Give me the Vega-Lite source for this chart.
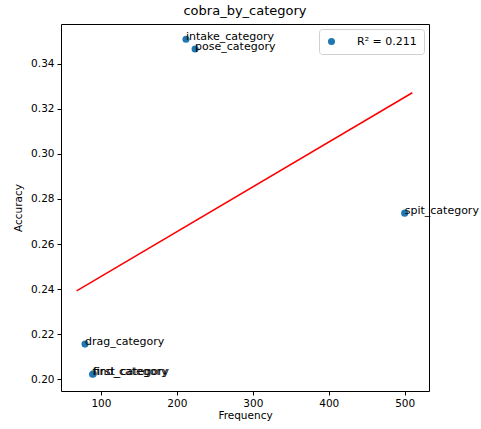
{
  "$schema": "https://vega.github.io/schema/vega-lite/v6.json",
  "width": 368,
  "height": 367,
  "autosize": {"type": "none"},
  "padding": {"left": 61, "top": 24, "right": 52, "bottom": 38},
  "background": "white",
  "title": {"text": "cobra_by_category", "fontSize": 13, "fontWeight": "normal", "font": "DejaVu Sans", "color": "#000", "offset": 6},
  "config": {
    "font": "DejaVu Sans",
    "view": {"stroke": "#000", "strokeWidth": 1},
    "axis": {"grid": false, "domain": false, "tickColor": "#000", "tickSize": 4, "labelFontSize": 10.5, "labelColor": "#000", "titleFontSize": 10.5, "titleFontWeight": "normal", "titleColor": "#000", "labelPadding": 3}
  },
  "datasets": {
    "pts": [
      {"label": "intake_category", "frequency": 212, "accuracy": 0.3508},
      {"label": "pose_category", "frequency": 224, "accuracy": 0.3465},
      {"label": "spit_category", "frequency": 500, "accuracy": 0.2737},
      {"label": "drag_category", "frequency": 79, "accuracy": 0.2156},
      {"label": "find_category", "frequency": 89, "accuracy": 0.2022},
      {"label": "first_category", "frequency": 90, "accuracy": 0.2024}
    ],
    "fit": [
      {"frequency": 68, "accuracy": 0.2392},
      {"frequency": 510, "accuracy": 0.3271}
    ]
  },
  "layer": [
    {
      "data": {"name": "fit"},
      "mark": {"type": "line", "color": "#ff0000", "strokeWidth": 1.5, "clip": true},
      "encoding": {
        "x": {"field": "frequency", "type": "quantitative"},
        "y": {"field": "accuracy", "type": "quantitative"}
      }
    },
    {
      "data": {"name": "pts"},
      "mark": {"type": "circle", "size": 50, "opacity": 1},
      "encoding": {
        "x": {"field": "frequency", "type": "quantitative", "title": "Frequency", "scale": {"domain": [47.4, 532], "nice": false, "zero": false}, "axis": {"values": [100, 200, 300, 400, 500], "titlePadding": 2}},
        "y": {"field": "accuracy", "type": "quantitative", "title": "Accuracy", "scale": {"domain": [0.1948, 0.3576], "nice": false, "zero": false}, "axis": {"values": [0.2, 0.22, 0.24, 0.26, 0.28, 0.3, 0.32, 0.34], "format": ".2f", "titlePadding": 7}},
        "color": {"datum": "R² = 0.211", "type": "nominal", "scale": {"range": ["#1f77b4"]}, "legend": {"title": null, "orient": "top-right", "offset": 5, "labelFontSize": 11, "labelColor": "#000", "symbolSize": 50, "symbolType": "circle", "strokeColor": "#d0d0d0", "fillColor": "white", "cornerRadius": 3, "padding": 7, "labelOffset": 20}}
      }
    },
    {
      "data": {"name": "pts"},
      "mark": {"type": "text", "align": "left", "baseline": "alphabetic", "fontSize": 11, "color": "#000", "dy": 1},
      "encoding": {
        "x": {"field": "frequency", "type": "quantitative"},
        "y": {"field": "accuracy", "type": "quantitative"},
        "text": {"field": "label"}
      }
    }
  ]
}
